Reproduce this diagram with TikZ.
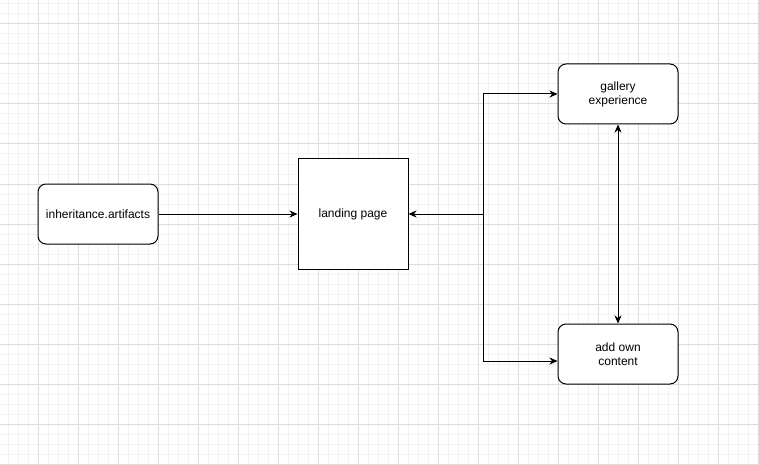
\documentclass[tikz,border=0pt]{standalone}
\usepackage{fontspec}
\setmainfont{Liberation Sans}
\usetikzlibrary{arrows.meta,positioning}
\definecolor{gridminor}{HTML}{F3F3F3}
\definecolor{gridmajor}{HTML}{DDDDDD}

\begin{document}
\begin{tikzpicture}[x=1pt,y=-1pt,
	box/.style={draw,thick,line width=1pt,rounded corners=8pt,minimum width=120pt,minimum height=60pt,align=center,font=\fontsize{12}{14}\selectfont},
	page/.style={draw,line width=1pt,minimum width=110pt,minimum height=110pt,font=\fontsize{12}{14}\selectfont},
	arr/.style={line width=1pt,-{Stealth[length=8pt,width=7pt,inset=2.5pt]}},
	biarr/.style={line width=1pt,{Stealth[length=8pt,width=7pt,inset=2.5pt]}-{Stealth[length=8pt,width=7pt,inset=2.5pt]}}]
		\useasboundingbox (0,0) rectangle (759,465);
		\fill[white] (0,0) rectangle (759,465);
		% background grid
		\foreach \gx in {8,18,...,758} \draw[gridminor,line width=1pt] (\gx,0) -- (\gx,465);
		\foreach \gy in {4,14,...,464} \draw[gridminor,line width=1pt] (0,\gy) -- (759,\gy);
		\foreach \gx in {38,78,...,758} \draw[gridmajor,line width=1pt] (\gx,0) -- (\gx,465);
		\foreach \gy in {24,64,...,464} \draw[gridmajor,line width=1pt] (0,\gy) -- (759,\gy);
		% nodes
		\node[box,fill=white] (artifacts) at (98,214) {inheritance.artifacts};
		\node[page,fill=white] (landing) at (353,214) {landing page};
		\node[box,fill=white] (gallery) at (618,94) {gallery\\experience};
		\node[box,fill=white] (addown) at (618,354) {add own\\content};
		\coordinate (split) at (483,214);
		% connectors
		\draw[arr] (artifacts) -- (landing);
		\draw[arr] (split) -- (landing);
		\draw[arr] (split) |- (gallery);
		\draw[arr] (split) |- ([yshift=-7pt]addown.west);
		\draw[biarr] (gallery) -- (addown);
	\end{tikzpicture}
\end{document}
